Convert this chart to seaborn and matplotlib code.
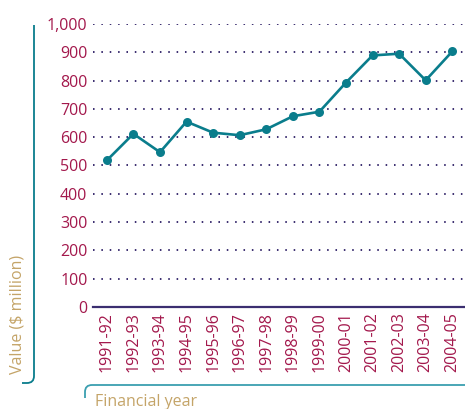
import matplotlib
matplotlib.use("Agg")
import matplotlib.pyplot as plt
from matplotlib.path import Path
from matplotlib.patches import PathPatch
import seaborn as sns
import pandas as pd

years = ["1991-92", "1992-93", "1993-94", "1994-95", "1995-96", "1996-97", "1997-98",
         "1998-99", "1999-00", "2000-01", "2001-02", "2002-03", "2003-04", "2004-05"]
values = [518, 612, 547, 655, 616, 607, 628, 674, 690, 793, 889, 895, 801, 903]
y_ticks = [0, 100, 200, 300, 400, 500, 600, 700, 800, 900, 1000]
y_labels = ["0", "100", "200", "300", "400", "500", "600", "700", "800", "900", "1,000"]

TEAL = "#0a7d8c"
CRIMSON = "#a3184c"
TAN = "#c4a468"
PURPLE = "#3b2e70"

sns.set_style("white")
plt.rcParams["font.family"] = ["Open Sans", "DejaVu Sans"]

W, H = 465, 409
fig = plt.figure(figsize=(W / 100, H / 100), dpi=100)
ax = fig.add_axes([93 / W, 1 - 307 / H, 1 - 93 / W, (307 - 24) / H])

df = pd.DataFrame({"year": years, "value": values})
sns.lineplot(data=df, x="year", y="value", ax=ax, color=TEAL, linewidth=1.9,
             marker="o", markersize=6.5, markeredgewidth=0, sort=False)

ax.set_ylim(0, 1000)
ax.set_xlim(-0.52, 13.48)
ax.set_yticks(y_ticks)
ax.set_yticklabels(y_labels)
ax.set_xticks(range(len(years)))
ax.set_xticklabels(years, rotation=90)
ax.tick_params(axis="both", length=0, labelsize=11.5, labelcolor=CRIMSON)
ax.tick_params(axis="y", pad=4)
ax.tick_params(axis="x", pad=4)
ax.set_xlabel("")
ax.set_ylabel("")

for v in y_ticks[1:]:
    ax.axhline(v, color=PURPLE, linewidth=1.4, linestyle=(0, (0.8, 3.5)), zorder=0)

for s in ["top", "right", "left"]:
    ax.spines[s].set_visible(False)
ax.spines["bottom"].set_color(PURPLE)
ax.spines["bottom"].set_linewidth(1.6)
ax.spines["bottom"].set_zorder(1)


def P(x, y):
    return (x / W, 1 - y / H)

# left bracket
verts = [P(34, 25), P(34, 376), P(34, 383), P(27, 383), P(22, 383)]
codes = [Path.MOVETO, Path.LINETO, Path.CURVE3, Path.CURVE3, Path.LINETO]
fig.add_artist(PathPatch(Path(verts, codes), transform=fig.transFigure,
                         facecolor="none", edgecolor=TEAL, linewidth=1.3))
# bottom bracket
verts = [P(466, 385), P(92, 385), P(85, 385), P(85, 392), P(85, 398)]
fig.add_artist(PathPatch(Path(verts, codes), transform=fig.transFigure,
                         facecolor="none", edgecolor="#3a9fb0", linewidth=1.3))

fig.text(18 / W, 1 - 314 / H, "Value ($ million)", rotation=90, color=TAN,
         fontsize=11.5, ha="center", va="center")
fig.text(95 / W, 1 - 402 / H, "Financial year", color=TAN,
         fontsize=11.5, ha="left", va="center")

fig.savefig("out.png", dpi=100)
